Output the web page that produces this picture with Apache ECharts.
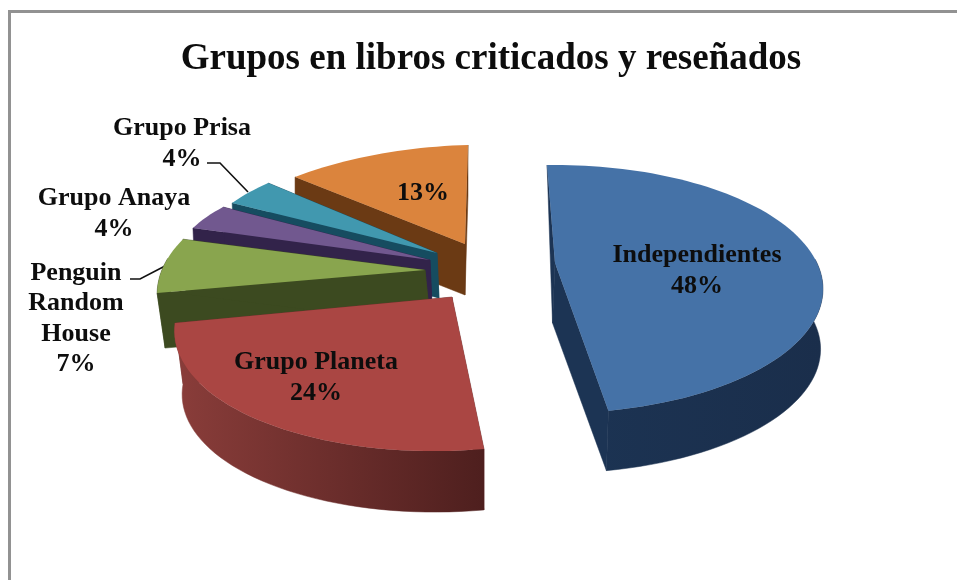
<!DOCTYPE html>
<html><head><meta charset="utf-8">
<style>html,body{margin:0;padding:0;background:#fff}#c{width:957px;height:580px}</style>
<script src="https://cdn.jsdelivr.net/npm/echarts@6/dist/echarts.min.js"></script>
</head><body><div id="c"></div>
<script>
const titleText = 'Grupos en libros criticados y reseñados';
const categories = ['Independientes','Grupo Planeta','Penguin\nRandom\nHouse','Grupo Anaya','Grupo Prisa','Otros'];
const values = [48,24,7,4,4,13];
const showName = [true,true,true,true,true,false];

// pie geometry (layout only)
const startAngle = -2.1, persp = 0.21;
const layout = [
 {cx:555,cy:263,rx:262,ry:118.6,sx:0,sy:0,h:60,hx0:-3,hx1:-2,order:5,lx:697,ly:271,top:'#4572a7',edge:'#1c3454',w0:'#1c3454',w1:'#1a2e4b',rear0:true},
 {cx:452,cy:297,rx:265.9,ry:121.7,sx:-22.5,sy:2.5,h:61,hx0:0,hx1:8,order:4,lx:316,ly:378,top:'#aa4643',edge:'#6e302e',w0:'#8a3d3a',w1:'#4e1f1e'},
 {cx:425,cy:270,rx:260.4,ry:123,sx:-7,sy:5.9,h:55,hx0:8,hx1:3,order:3,lx:76,ly:319,top:'#89a54e',edge:'#3c4a20',w0:'#3c4a20',w1:'#3c4a20'},
 {cx:430,cy:260,rx:253.5,ry:106,sx:0,sy:10.6,h:45,hx0:2,hx1:2,order:2,lx:114,ly:214,top:'#71588f',edge:'#32234a',w0:'#32234a',w1:'#32234a'},
 {cx:437,cy:253,rx:246,ry:120,sx:9,sy:0.9,h:45,hx0:2,hx1:2,order:1,lx:182,ly:144,top:'#4198af',edge:'#164c60',w0:'#164c60',w1:'#164c60'},
 {cx:465,cy:244,rx:267.7,ry:120,sx:-11.1,sy:-3,h:51,hx0:0,hx1:0,order:0,lx:423,ly:193,top:'#db843d',edge:'#6b3a14',w0:'#6b3a14',w1:'#6b3a14'}
];
const leaders = [
 [[207,163],[220,163],[248,192]],
 [[130,279],[140,279],[165,266]]
];
const font = 'bold 26px "Liberation Serif","Times New Roman",serif';

const total = values.reduce((a,b)=>a+b,0);
const chart = echarts.init(document.getElementById('c'),null,{renderer:'canvas'});

function project(l,deg){
  const t = deg*Math.PI/180, U = Math.sin(t), V = -Math.cos(t), w = 1/(1-persp*V);
  return [l.cx+l.rx*U*w+l.sx*V, l.cy+l.ry*V*w+l.sy*U];
}

function renderItem(params,api){
  const i = params.dataIndex, l = layout[i];
  let before = 0; for(let k=0;k<i;k++) before += values[k];
  const a0 = startAngle+before/total*360, a1 = a0+values[i]/total*360;
  const n = Math.max(8,Math.round((a1-a0)/2));
  const arc = [], front = [];
  for(let k=0;k<=n;k++){
    const deg = a0+(a1-a0)*k/n, p = project(l,deg), f = k/n;
    arc.push(p);
    if(-Math.cos(deg*Math.PI/180) >= -0.05)
      front.push({p:p,d:[p[0]+l.hx0+(l.hx1-l.hx0)*f,p[1]+l.h]});
  }
  const apex = [l.cx,l.cy], base = l.order*10;
  const xs = arc.map(p=>p[0]);
  const wallFill = new echarts.graphic.LinearGradient(Math.min(...xs),0,Math.max(...xs),0,
    [{offset:0,color:l.w0},{offset:1,color:l.w1}],true);
  const wall = (pts,fill,z)=>({type:'polygon',shape:{points:pts},style:{fill:fill,stroke:fill,lineWidth:0.5},z2:base+z,silent:true});
  const apexDown = [l.cx+(l.hx0+l.hx1)/2,l.cy+l.h];
  const edge0 = l.rear0 ? [arc[0],apex,apexDown]
                        : [arc[0],apex,apexDown,[arc[0][0]+l.hx0,arc[0][1]+l.h]];
  const edge1 = [arc[n],apex,apexDown,[arc[n][0]+l.hx1,arc[n][1]+l.h]];
  const children = [wall(edge0,l.edge,0), wall(edge1,l.edge,0)];
  if(front.length>1){
    children.push(wall(front.map(q=>q.p).concat(front.map(q=>q.d).reverse()),wallFill,1));
  }
  children.push(
    {type:'polygon',shape:{points:[apex].concat(arc)},style:{fill:l.top},z2:base+2,silent:true},
    {type:'text',z2:200,silent:true,style:{
      text:(showName[i]?categories[i]+'\n':'')+values[i]+'%',
      x:l.lx,y:l.ly,align:'center',verticalAlign:'middle',font:font,lineHeight:30.5,fill:'#0d0d0d'}}
  );
  return {type:'group',children:children};
}

chart.setOption({
  animation:false,
  backgroundColor:'#ffffff',
  title:{text:titleText,left:486,top:36,textAlign:'center',
    textStyle:{fontFamily:'"Liberation Serif","Times New Roman",serif',fontWeight:'bold',fontSize:37,color:'#0d0d0d'}},
  graphic:[
    {type:'polyline',shape:{points:[[9.5,580],[9.5,11.5],[957,11.5]]},style:{fill:null,stroke:'#929292',lineWidth:3}}
  ].concat(leaders.map(pts=>({type:'polyline',shape:{points:pts},style:{fill:null,stroke:'#111',lineWidth:1.6}}))),
  series:[{
    type:'custom',coordinateSystem:'none',renderItem:renderItem,clip:false,
    data:categories.map((c,i)=>({name:c,value:[i,values[i]]}))
  }]
});
</script></body></html>
